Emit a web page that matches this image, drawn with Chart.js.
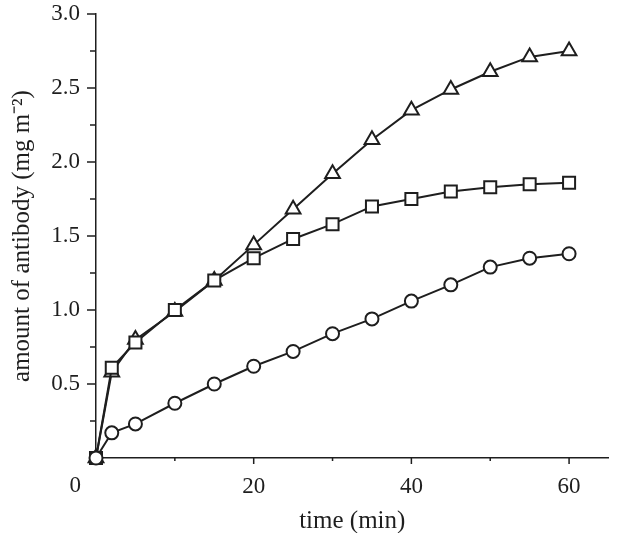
<!DOCTYPE html>
<html>
<head>
<meta charset="utf-8">
<script src="https://cdn.jsdelivr.net/npm/chart.js@4"></script>
<style>
    html, body { margin: 0; padding: 0; background: #fff; }
    #wrap { width: 619px; height: 533px; }
</style>
</head>
<body>
<div id="wrap"><canvas id="chart"></canvas></div>
<script>
// time points (min)
const times = [0, 2, 5, 10, 15, 20, 25, 30, 35, 40, 45, 50, 55, 60];
// amount of antibody (mg m^-2)
const triangleValues = [0, 0.58, 0.80, 0.99, 1.20, 1.44, 1.68, 1.92, 2.15, 2.35, 2.49, 2.61, 2.71, 2.75];
const squareValues = [0, 0.61, 0.78, 1.00, 1.20, 1.35, 1.48, 1.58, 1.70, 1.75, 1.80, 1.83, 1.85, 1.86];
const circleValues = [0, 0.17, 0.23, 0.37, 0.50, 0.62, 0.72, 0.84, 0.94, 1.06, 1.17, 1.29, 1.35, 1.38];

const xTickLabels = [20, 40, 60];
const xMinorTicks = [10, 30, 50];
const yTickLabels = [0.5, 1.0, 1.5, 2.0, 2.5, 3.0];
const yMinorTicks = [0.25, 0.75, 1.25, 1.75, 2.25, 2.75];

const INK = '#1e1e1e';
const FONT = '"Liberation Serif", "Times New Roman", serif';

function points(values) {
    return times.map((t, i) => ({ x: t, y: values[i] }));
}

function series(values, style, radius) {
    return {
        data: points(values),
        borderColor: INK,
        borderWidth: 2,
        pointStyle: style,
        pointRadius: radius,
        pointBorderWidth: 2,
        pointBorderColor: INK,
        pointBackgroundColor: '#fff',
        tension: 0,
        clip: false
    };
}

// ticks drawn by hand so that major and minor ones get different lengths
const tickMarks = {
    id: 'tickMarks',
    afterDraw(chart) {
        const ctx = chart.ctx;
        const xs = chart.scales.x, ys = chart.scales.y;
        const area = chart.chartArea;
        ctx.save();
        ctx.strokeStyle = INK;
        ctx.lineWidth = 1.5;
        ctx.beginPath();
        xTickLabels.forEach(v => {
            const px = xs.getPixelForValue(v);
            ctx.moveTo(px, area.bottom); ctx.lineTo(px, area.bottom + 6);
        });
        xMinorTicks.forEach(v => {
            const px = xs.getPixelForValue(v);
            ctx.moveTo(px, area.bottom); ctx.lineTo(px, area.bottom + 3);
        });
        yTickLabels.forEach(v => {
            const py = ys.getPixelForValue(v);
            ctx.moveTo(area.left, py); ctx.lineTo(area.left - 9, py);
        });
        yMinorTicks.forEach(v => {
            const py = ys.getPixelForValue(v);
            ctx.moveTo(area.left, py); ctx.lineTo(area.left - 6, py);
        });
        ctx.stroke();

        // shared origin label
        ctx.fillStyle = INK;
        ctx.font = '23px ' + FONT;
        ctx.textAlign = 'right';
        ctx.textBaseline = 'middle';
        ctx.fillText('0', area.left - 15, area.bottom + 28);
        ctx.restore();
    }
};

new Chart(document.getElementById('chart'), {
    type: 'line',
    data: {
        datasets: [
            series(circleValues, 'circle', 6.5),
            series(squareValues, 'rect', 8.5),
            series(triangleValues, 'triangle', 8.5)
        ]
    },
    options: {
        responsive: true,
        maintainAspectRatio: false,
        animation: false,
        events: [],
        layout: { padding: { left: 0, right: 2, top: 14, bottom: 0 } },
        plugins: { legend: { display: false }, tooltip: { enabled: false } },
        scales: {
            x: {
                type: 'linear',
                min: 0,
                max: 65,
                grid: { display: false },
                border: { display: true, color: INK, width: 1.5 },
                afterBuildTicks: s => { s.ticks = xTickLabels.map(v => ({ value: v })); },
                afterFit: s => { s.height = 75; s.paddingLeft = 0; s.paddingRight = 0; },
                ticks: {
                    color: INK,
                    padding: 7,
                    maxRotation: 0,
                    font: { family: FONT, size: 23 },
                    callback: v => String(v)
                },
                title: {
                    display: true,
                    text: 'time (min)',
                    color: INK,
                    font: { family: FONT, size: 25 },
                    padding: { top: 0, bottom: -3 }
                }
            },
            y: {
                type: 'linear',
                min: 0,
                max: 3.0,
                grid: { display: false },
                border: { display: true, color: INK, width: 1.5 },
                afterBuildTicks: s => { s.ticks = yTickLabels.map(v => ({ value: v })); },
                afterFit: s => { s.width = 96; s.paddingTop = 0; s.paddingBottom = 0; },
                ticks: {
                    color: INK,
                    padding: 8,
                    font: { family: FONT, size: 23 },
                    callback: v => Number(v).toFixed(1)
                },
                title: {
                    display: true,
                    text: 'amount of antibody (mg m\u207B\u00B2)',
                    color: INK,
                    font: { family: FONT, size: 25 },
                    padding: { top: 7, bottom: 0 }
                }
            }
        }
    },
    plugins: [tickMarks]
});
</script>
</body>
</html>
